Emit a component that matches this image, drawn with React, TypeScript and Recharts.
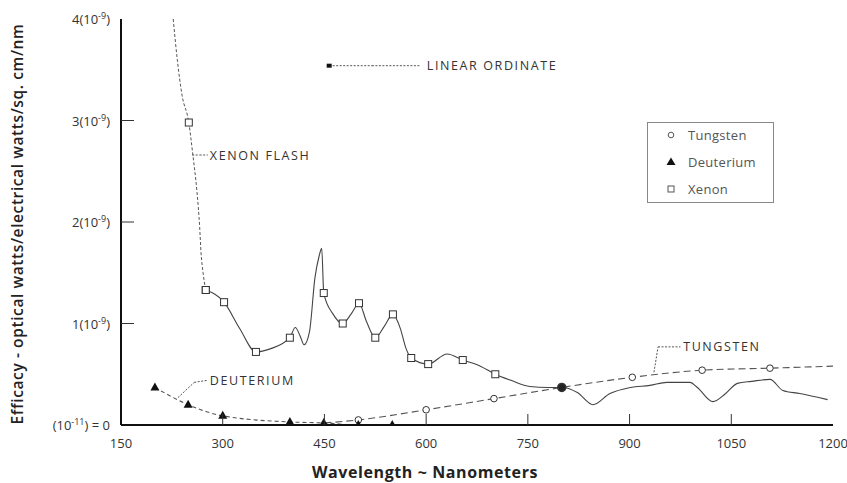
import React from 'react';
import { LineChart, Line, XAxis, YAxis, ReferenceDot, ReferenceLine, Legend } from 'recharts';

const FONT = '"Open Sans", "DejaVu Sans", sans-serif';
const INK = '#333';

// ---- axes ----
const xTicks = [150, 300, 450, 600, 750, 900, 1050, 1200];
const yTicks = [0, 1, 2, 3, 4];
const yTickBase = ['(10', '1(10', '2(10', '3(10', '4(10'];
const yTickExp = ['-11', '-9', '-9', '-9', '-9'];
const yTickTail = [') = 0', ')', ')', ')', ')'];
const xTitle = 'Wavelength ~ Nanometers';
const yTitle = 'Efficacy - optical watts/electrical watts/sq. cm/nm';

// ---- xenon flash (steep upper part, dashed) ----
const xenonFlashWl = [227, 233, 240, 250, 256, 262, 266, 268, 271, 275];
const xenonFlashVal = [4.0, 3.6, 3.25, 2.98, 2.66, 2.3, 1.95, 1.7, 1.5, 1.33];

// ---- xenon (solid part) ----
const xenonWl = [275, 302, 325, 349, 370, 399, 407, 414, 420, 428, 436, 442, 446, 449, 462, 477, 490, 501, 512, 525, 538, 551, 562, 570, 578, 603, 631, 654, 680, 702, 725, 753, 780, 802, 823, 846, 871, 901, 930, 955, 989, 1000, 1023, 1040, 1059, 1080, 1107, 1126, 1151, 1192];
const xenonVal = [1.33, 1.21, 0.95, 0.72, 0.75, 0.86, 0.96, 0.88, 0.79, 0.92, 1.45, 1.66, 1.74, 1.3, 1.1, 1.0, 1.1, 1.2, 1.02, 0.86, 0.97, 1.09, 0.95, 0.76, 0.66, 0.6, 0.7, 0.64, 0.58, 0.5, 0.44, 0.38, 0.37, 0.37, 0.32, 0.2, 0.31, 0.37, 0.39, 0.42, 0.42, 0.37, 0.23, 0.3, 0.41, 0.43, 0.45, 0.34, 0.31, 0.25];
const xenonMarks = [250, 275, 302, 349, 399, 449, 477, 501, 525, 551, 578, 603, 654, 702];

// ---- tungsten ----
const tungstenWl = [450, 500, 600, 700, 800, 904, 1007, 1107, 1200];
const tungstenVal = [0.02, 0.05, 0.15, 0.26, 0.37, 0.47, 0.54, 0.56, 0.58];
const tungstenMarks = [500, 600, 700, 800, 904, 1007, 1107];

// ---- deuterium ----
const deuteriumWl = [200, 249, 300, 399, 449, 500, 550];
const deuteriumVal = [0.37, 0.2, 0.09, 0.03, 0.02, 0.0, 0.0];
const deuteriumMarks = [200, 249, 300, 399, 449, 500, 550];

// ---- legend ----
const legendNames = ['Tungsten', 'Deuterium', 'Xenon'];

// ---- annotations ----
const annText = ['LINEAR ORDINATE', 'XENON FLASH', 'DEUTERIUM', 'TUNGSTEN'];
const annX = [601, 281, 281, 979];
const annY = [3.54, 2.66, 0.44, 0.77];
const leaderFromX = [457, 255, 234, 936];
const leaderFromY = [3.54, 2.66, 0.27, 0.52];
const leaderMidX = [520, 266, 258, 942];
const leaderMidY = [3.54, 2.66, 0.42, 0.77];
const leaderToX = [591, 278, 277, 975];
const leaderToY = [3.54, 2.66, 0.44, 0.77];

const rows = (wl: number[], val: number[], marks: number[]) =>
  wl.map((w, i) => ({ w, v: val[i], mark: marks.includes(w) }));

const xenonFlashData = rows(xenonFlashWl, xenonFlashVal, xenonMarks);
const xenonData = rows(xenonWl, xenonVal, xenonMarks);
const tungstenData = rows(tungstenWl, tungstenVal, tungstenMarks);
const deuteriumData = rows(deuteriumWl, deuteriumVal, deuteriumMarks);

const W = 847;
const H = 483;
const M = { top: 19, right: 14, left: 0, bottom: 28 };
const YAXIS_W = 121;
const XAXIS_H = 30;

const SquareDot = (p: any) => {
  const { cx, cy, payload, index } = p;
  if (!payload || !payload.mark) return <g key={`s${index}`} />;
  return <rect key={`s${index}`} x={cx - 3.5} y={cy - 3.5} width={7} height={7} fill="#fff" stroke={INK} strokeWidth={1} />;
};
const CircleDot = (p: any) => {
  const { cx, cy, payload, index } = p;
  if (!payload || !payload.mark) return <g key={`c${index}`} />;
  const bold = payload.w === 800;
  return <circle key={`c${index}`} cx={cx} cy={cy} r={bold ? 4 : 3.3} fill={bold ? '#222' : '#fff'} stroke={INK} strokeWidth={bold ? 1.5 : 1} />;
};
const TriDot = (p: any) => {
  const { cx, cy, payload, index } = p;
  if (!payload || !payload.mark) return <g key={`t${index}`} />;
  return <path key={`t${index}`} d={`M${cx},${cy - 5} L${cx + 4.5},${cy + 3} L${cx - 4.5},${cy + 3} Z`} fill="#111" />;
};

const XTick = (props: any) => {
  const { x, y, payload } = props;
  const v = payload.value;
  const inner = v !== xTicks[0] && v !== xTicks[xTicks.length - 1];
  return (
    <g>
      {inner && <line x1={x} x2={x} y1={y} y2={y - 11} stroke={INK} strokeWidth={1} />}
      <text x={x} y={y + 23} textAnchor="middle" fontSize={13} fontFamily={FONT} fill={INK}>{v}</text>
    </g>
  );
};

const YTick = (props: any) => {
  const { x, y, payload } = props;
  const i = yTicks.indexOf(payload.value);
  const inner = i > 0 && i < yTicks.length - 1;
  return (
    <g>
      {inner && <line x1={x} x2={x + 13} y1={y} y2={y} stroke={INK} strokeWidth={1} />}
      <text x={x - 11} y={y + 5} textAnchor="end" fontSize={13} fontFamily={FONT} fill={INK}>
        {yTickBase[i]}
        <tspan fontSize={9} dy={-5}>{yTickExp[i]}</tspan>
        <tspan dy={5}>{yTickTail[i]}</tspan>
      </text>
    </g>
  );
};

const LegendBox = () => (
  <svg width={127} height={81} style={{ display: 'block' }}>
    <rect x={0.5} y={0.5} width={126} height={80} fill="#fff" stroke="#888" strokeWidth={1} />
    {legendNames.map((n, i) => {
      const cy = 13 + i * 27;
      const cx = 24;
      let mk;
      if (i === 0) mk = <circle cx={cx} cy={cy} r={2.8} fill="#fff" stroke="#555" strokeWidth={1} />;
      else if (i === 1) mk = <path d={`M${cx},${cy - 4.5} L${cx + 4.5},${cy + 3} L${cx - 4.5},${cy + 3} Z`} fill="#111" />;
      else mk = <rect x={cx - 3} y={cy - 3} width={6} height={6} fill="#fff" stroke="#555" strokeWidth={1} />;
      return (
        <g key={n}>
          {mk}
          <text x={41} y={cy + 4.5} fontSize={13} fontFamily={FONT} fill="#555" letterSpacing={0.3}>{n}</text>
        </g>
      );
    })}
  </svg>
);

export default function App() {
  const plotBottom = H - M.bottom - XAXIS_H;
  return (
    <div style={{ position: 'absolute', left: 0, top: 0, width: W, height: H, background: '#fff' }}>
      <LineChart width={W} height={H} margin={M}>
        <XAxis
          xAxisId={0}
          type="number"
          dataKey="w"
          domain={[150, 1200]}
          ticks={xTicks}
          interval={0}
          height={XAXIS_H}
          tickSize={0}
          tickMargin={0}
          tickLine={false}
          axisLine={{ stroke: '#111', strokeWidth: 2 }}
          tick={<XTick />}
          allowDataOverflow
          label={{
            content: () => (
              <text x={425} y={plotBottom + 53} textAnchor="middle" fontSize={16} letterSpacing={0.6} fontWeight={700} fontFamily={FONT} fill="#222">
                {xTitle}
              </text>
            ),
          }}
        />
        <XAxis xAxisId="top" orientation="top" type="number" domain={[150, 1200]} height={0} tick={false} tickLine={false} axisLine={{ stroke: '#444', strokeWidth: 1.5 }} />
        <YAxis
          yAxisId={0}
          type="number"
          domain={[0, 4]}
          ticks={yTicks}
          interval={0}
          width={YAXIS_W}
          tickSize={0}
          tickMargin={0}
          tickLine={false}
          axisLine={{ stroke: '#111', strokeWidth: 2 }}
          tick={<YTick />}
          allowDataOverflow
          label={{
            content: () => (
              <text
                x={17}
                y={224}
                transform="rotate(-90, 17, 224)"
                textAnchor="middle"
                dominantBaseline="central"
                fontSize={15.5}
                letterSpacing={0.6}
                fontWeight={600}
                fontFamily={FONT}
                fill="#222"
              >
                {yTitle}
              </text>
            ),
          }}
        />
        <YAxis yAxisId="right" orientation="right" type="number" domain={[0, 4]} width={0} tick={false} tickLine={false} axisLine={{ stroke: '#444', strokeWidth: 1.5 }} />

        {annText.map((t, i) => (
          <ReferenceLine
            key={`l1${i}`}
            segment={[{ x: leaderFromX[i], y: leaderFromY[i] }, { x: leaderMidX[i], y: leaderMidY[i] }]}
            stroke="#555"
            strokeWidth={1}
            strokeDasharray="2 1.5"
            ifOverflow="visible"
          />
        ))}
        {annText.map((t, i) => (
          <ReferenceLine
            key={`l2${i}`}
            segment={[{ x: leaderMidX[i], y: leaderMidY[i] }, { x: leaderToX[i], y: leaderToY[i] }]}
            stroke="#555"
            strokeWidth={1}
            strokeDasharray="2 1.5"
            ifOverflow="visible"
          />
        ))}
        <ReferenceDot
          x={leaderFromX[0]}
          y={leaderFromY[0]}
          ifOverflow="visible"
          shape={(p: any) => <rect x={p.cx - 2.5} y={p.cy - 2} width={5} height={4} fill="#111" />}
        />
        {annText.map((t, i) => (
          <ReferenceDot
            key={`a${i}`}
            x={annX[i]}
            y={annY[i]}
            ifOverflow="visible"
            shape={(p: any) => (
              <text x={p.cx} y={p.cy + 4.5} fontSize={12.5} letterSpacing={1.6} fontFamily={FONT} fill="#333">
                {t}
              </text>
            )}
          />
        ))}

        <Line data={xenonFlashData} dataKey="v" type="monotone" stroke="#555" strokeWidth={1} strokeDasharray="3 2" dot={SquareDot} activeDot={false} isAnimationActive={false} legendType="none" name="Xenon flash" />
        <Line data={xenonData} dataKey="v" type="monotone" stroke="#444" strokeWidth={1.1} dot={SquareDot} activeDot={false} isAnimationActive={false} name="Xenon" />
        <Line data={tungstenData} dataKey="v" type="monotone" stroke="#555" strokeWidth={1.1} strokeDasharray="7 4" dot={CircleDot} activeDot={false} isAnimationActive={false} name="Tungsten" />
        <Line data={deuteriumData} dataKey="v" type="monotone" stroke="#555" strokeWidth={1.1} strokeDasharray="4 3" dot={TriDot} activeDot={false} isAnimationActive={false} name="Deuterium" />

        <Legend
          layout="vertical"
          align="center"
          verticalAlign="middle"
          wrapperStyle={{ position: 'absolute', left: 647, top: 122, width: 127, height: 81, margin: 0 }}
          content={() => <LegendBox />}
        />
      </LineChart>
    </div>
  );
}
